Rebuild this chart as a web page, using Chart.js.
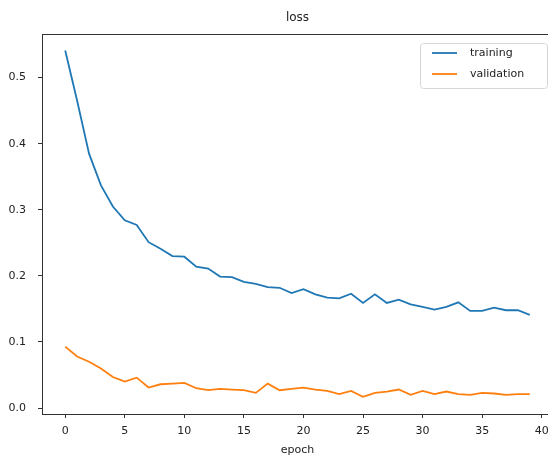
<!DOCTYPE html>
<html>
<head>
<meta charset="utf-8">
<script src="https://cdn.jsdelivr.net/npm/chart.js@4/dist/chart.umd.min.js"></script>
<style>
  html, body { margin: 0; padding: 0; background: #fff; overflow: hidden; }
  #wrap { width: 560px; height: 459px; position: relative; }
</style>
</head>
<body>
<div id="wrap"><canvas id="lossChart"></canvas></div>
<script>
// values
const chartTitle = "loss";
const xTitle = "epoch";
const epochs = [0, 1, 2, 3, 4, 5, 6, 7, 8, 9, 10, 11, 12, 13, 14, 15, 16, 17, 18, 19,
                20, 21, 22, 23, 24, 25, 26, 27, 28, 29, 30, 31, 32, 33, 34, 35, 36, 37, 38, 39];
const training = [0.541, 0.465, 0.385, 0.337, 0.305, 0.284, 0.277, 0.251, 0.241, 0.230,
                  0.229, 0.214, 0.211, 0.199, 0.198, 0.191, 0.188, 0.183, 0.182, 0.174,
                  0.180, 0.172, 0.167, 0.166, 0.173, 0.159, 0.172, 0.159, 0.164, 0.157,
                  0.153, 0.149, 0.153, 0.160, 0.147, 0.147, 0.152, 0.148, 0.148, 0.141];
const validation = [0.093, 0.078, 0.070, 0.060, 0.047, 0.040, 0.046, 0.031, 0.036, 0.037,
                    0.038, 0.030, 0.027, 0.029, 0.028, 0.027, 0.023, 0.037, 0.027, 0.029,
                    0.031, 0.028, 0.026, 0.021, 0.026, 0.017, 0.023, 0.025, 0.028, 0.020,
                    0.026, 0.021, 0.025, 0.021, 0.020, 0.023, 0.022, 0.020, 0.021, 0.021];
const xTicks = [0, 5, 10, 15, 20, 25, 30, 35, 40];
const yTicks = [0.0, 0.1, 0.2, 0.3, 0.4, 0.5];

const colors = {
  blue: "#1f77b4",
  orange: "#ff7f0e",
  text: "#222222",
  frame: "#333333"
};
const font = "DejaVu Sans";

// title, axes frame and legend drawn like matplotlib
const mplLook = {
  id: "mplLook",
  afterDatasetsDraw(chart) {
    const ctx = chart.ctx;
    const a = chart.chartArea;
    ctx.save();
    ctx.strokeStyle = colors.frame;
    ctx.lineWidth = 1;
    ctx.strokeRect(Math.round(a.left) + 0.5, Math.round(a.top) + 0.5,
                   Math.round(a.right - a.left), Math.round(a.bottom - a.top));

    ctx.fillStyle = colors.text;
    ctx.font = "12px '" + font + "'";
    ctx.textAlign = "center";
    ctx.textBaseline = "middle";
    ctx.fillText(chartTitle, (a.left + a.right) / 2, 18);

    // legend box
    const bx = 420, by = 43, bw = 127, bh = 45;
    ctx.fillStyle = "rgba(255,255,255,0.8)";
    ctx.strokeStyle = "#d6d6d6";
    ctx.beginPath();
    ctx.roundRect(bx + 0.5, by + 0.5, bw, bh, 3);
    ctx.fill();
    ctx.stroke();
    ctx.font = "11px '" + font + "'";
    ctx.textAlign = "left";
    chart.data.datasets.forEach((ds, i) => {
      const y = 53 + i * 21;
      ctx.strokeStyle = ds.borderColor;
      ctx.lineWidth = 1.8;
      ctx.beginPath();
      ctx.moveTo(432, y);
      ctx.lineTo(457, y);
      ctx.stroke();
      ctx.fillStyle = colors.text;
      ctx.fillText(ds.label, 470, y);
    });
    ctx.restore();
  }
};

new Chart(document.getElementById("lossChart"), {
  type: "line",
  data: {
    datasets: [{
      label: "training",
      data: epochs.map((e, i) => ({ x: e, y: training[i] })),
      borderColor: colors.blue,
      backgroundColor: colors.blue,
      borderWidth: 1.8,
      pointRadius: 0,
      tension: 0
    }, {
      label: "validation",
      data: epochs.map((e, i) => ({ x: e, y: validation[i] })),
      borderColor: colors.orange,
      backgroundColor: colors.orange,
      borderWidth: 1.8,
      pointRadius: 0,
      tension: 0
    }]
  },
  options: {
    responsive: true,
    maintainAspectRatio: false,
    animation: false,
    layout: { padding: { top: 34, right: 7, bottom: 0, left: 0 } },
    plugins: {
      legend: { display: false },
      title: { display: false },
      tooltip: { enabled: false }
    },
    scales: {
      x: {
        type: "linear",
        min: -1.95,
        max: 40.95,
        afterBuildTicks: s => { s.ticks = xTicks.map(v => ({ value: v })); },
        afterFit: s => { s.height = 45; },
        grid: { drawOnChartArea: false, drawTicks: true, tickLength: 4, color: colors.frame },
        border: { display: false },
        ticks: {
          autoSkip: false,
          maxRotation: 0,
          padding: 7,
          color: colors.text,
          font: { family: font, size: 11 },
          callback: v => String(v)
        },
        title: {
          display: true,
          text: xTitle,
          color: colors.text,
          font: { family: font, size: 11 },
          padding: { top: 0, bottom: 2 }
        }
      },
      y: {
        min: -0.009,
        max: 0.566,
        afterBuildTicks: s => { s.ticks = yTicks.map(v => ({ value: v })); },
        afterFit: s => { s.width = 42; },
        grid: { drawOnChartArea: false, drawTicks: true, tickLength: 4, color: colors.frame },
        border: { display: false },
        ticks: {
          padding: 12,
          color: colors.text,
          font: { family: font, size: 11 },
          callback: v => v.toFixed(1)
        }
      }
    }
  },
  plugins: [mplLook]
});
</script>
</body>
</html>
